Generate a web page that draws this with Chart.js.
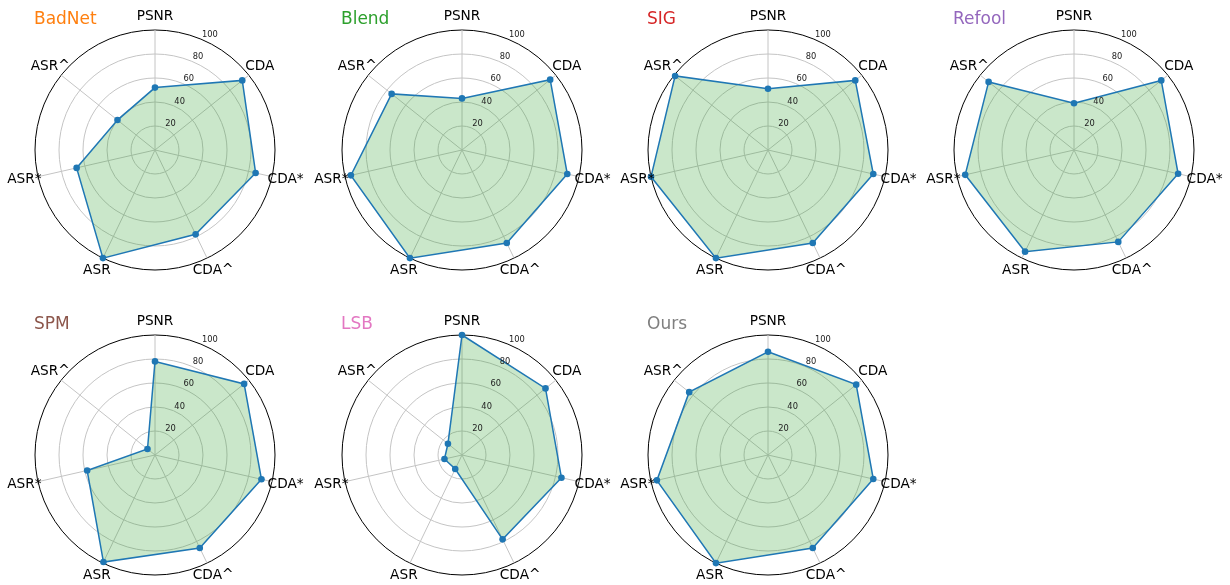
<!DOCTYPE html>
<html>
<head>
<meta charset="utf-8">
<script src="https://cdn.jsdelivr.net/npm/chart.js@4.4.1/dist/chart.umd.min.js"></script>
<style>
  body { margin: 0; background: #fff; width: 1230px; height: 585px; overflow: hidden; position: relative; }
  canvas.cell { position: absolute; }
</style>
</head>
<body>
<script>
// Axis names, clockwise from the top
const axes = ['PSNR', 'CDA', 'CDA*', 'CDA^', 'ASR', 'ASR*', 'ASR^'];
const radialTicks = [20, 40, 60, 80, 100];
const methods = ['BadNet', 'Blend', 'SIG', 'Refool', 'SPM', 'LSB', 'Ours'];
const methodColors = ['#ff7f0e', '#2ca02c', '#d62728', '#9467bd', '#8c564b', '#e377c2', '#7f7f7f'];

// Scores per method, same order as axes
const badnet = [52, 93, 86, 78, 100, 67, 40];
const blend  = [43, 94, 90, 86, 100, 95, 75];
const sig    = [51, 93, 90, 86, 100, 100, 99];
const refool = [39, 93, 89, 85, 94, 93, 91];
const spm    = [78, 95, 91, 86, 99, 58, 8];
const lsb    = [100, 89, 85, 78, 13, 15, 15];
const ours   = [86, 94, 90, 86, 100, 95, 84];

const seriesList = [badnet, blend, sig, refool, spm, lsb, ours];

// Axis names, tick labels and subplot title
const radarText = {
    id: 'radarText',
    afterDraw(chart, args, opts) {
        const r = chart.scales.r;
        const ctx = chart.ctx;
        ctx.save();

        ctx.font = '13.7px "DejaVu Sans"';
        ctx.fillStyle = '#000';
        ctx.textAlign = 'center';
        ctx.textBaseline = 'middle';
        axes.forEach((name, i) => {
            const p = r.getPointPosition(i, r.drawingArea + 14);
            ctx.fillText(name, p.x, p.y);
        });

        // matplotlib puts the radial labels at 22.5 deg
        const a = 22.5 * Math.PI / 180;
        ctx.font = '8.3px "DejaVu Sans"';
        ctx.fillStyle = '#222';
        ctx.textAlign = 'left';
        ctx.textBaseline = 'alphabetic';
        radialTicks.forEach(v => {
            const d = r.getDistanceFromCenterForValue(v);
            ctx.fillText(String(v), r.xCenter + d * Math.sin(a) + 1, r.yCenter - d * Math.cos(a) - 2);
        });

        ctx.font = '17px "DejaVu Sans"';
        ctx.fillStyle = opts.color;
        ctx.fillText(opts.text, r.xCenter - r.drawingArea - 1, r.yCenter - r.drawingArea - 6);
        ctx.restore();
    }
};

const cellSize = 310;
const centersX = [155, 462, 768, 1074];
const centersY = [150, 455];

methods.forEach((name, k) => {
    const canvas = document.createElement('canvas');
    canvas.className = 'cell';
    canvas.width = cellSize;
    canvas.height = cellSize;
    canvas.style.left = (centersX[k % 4] - cellSize / 2) + 'px';
    canvas.style.top = (centersY[Math.floor(k / 4)] - cellSize / 2) + 'px';
    document.body.appendChild(canvas);

    new Chart(canvas.getContext('2d'), {
        type: 'radar',
        data: {
            labels: axes,
            datasets: [{
                data: seriesList[k],
                borderColor: '#1f77b4',
                borderWidth: 1.5,
                backgroundColor: 'rgba(44, 160, 44, 0.25)',
                fill: true,
                pointRadius: 3.3,
                pointBorderWidth: 0,
                pointBackgroundColor: '#1f77b4',
                clip: false
            }]
        },
        options: {
            responsive: false,
            animation: false,
            events: [],
            layout: { padding: 35 },
            plugins: {
                legend: { display: false },
                tooltip: { enabled: false },
                radarText: { text: name, color: methodColors[k] }
            },
            scales: {
                r: {
                    min: 0,
                    max: 100,
                    ticks: { stepSize: 20, display: false },
                    pointLabels: { display: false },
                    grid: {
                        circular: true,
                        color: c => (c.tick && c.tick.value === 100) ? '#000' : '#c4c4c4',
                        lineWidth: 1
                    },
                    angleLines: { color: '#c4c4c4', lineWidth: 1 }
                }
            }
        },
        plugins: [radarText]
    });
});
</script>
</body>
</html>
